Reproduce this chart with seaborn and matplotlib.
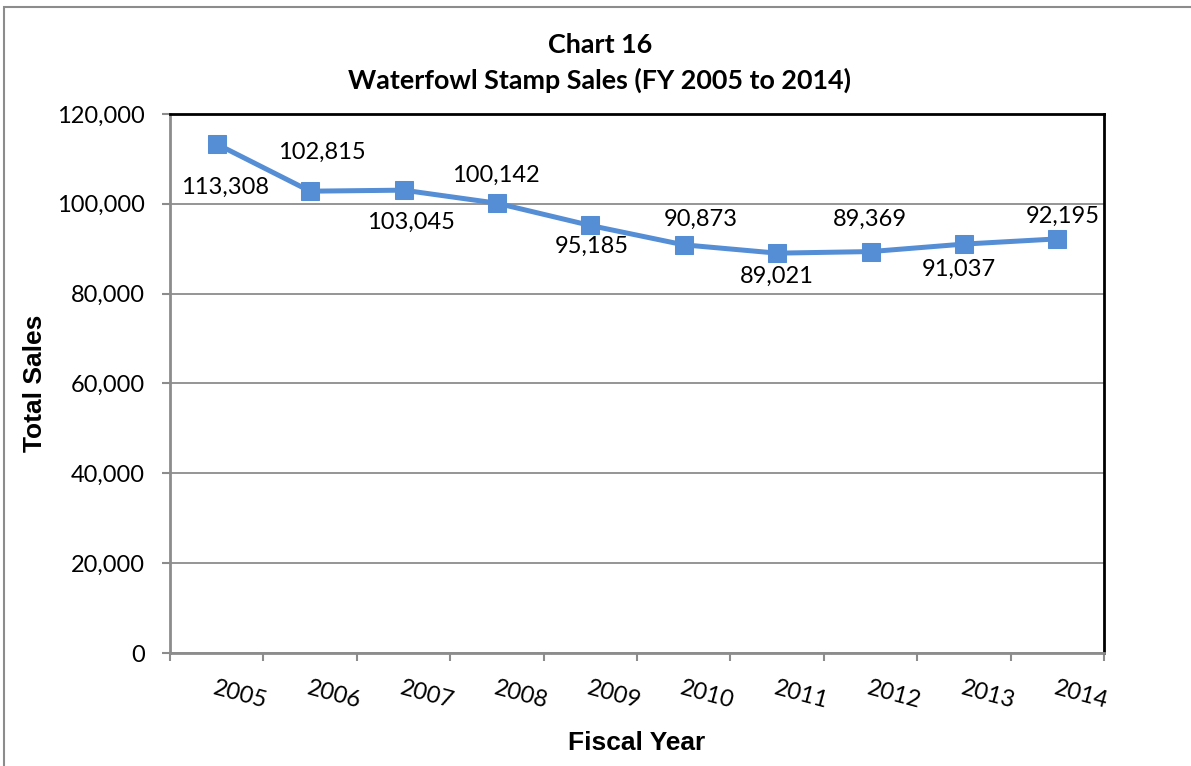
import matplotlib
matplotlib.use("Agg")
import matplotlib.pyplot as plt
import seaborn as sns
import pandas as pd
import numpy as np
from matplotlib.patches import Rectangle
from matplotlib.ticker import FuncFormatter

# ---- data ----
years = ["2005", "2006", "2007", "2008", "2009", "2010", "2011", "2012", "2013", "2014"]
sales = [113308, 102815, 103045, 100142, 95185, 90873, 89021, 89369, 91037, 92195]
value_labels = ["113,308", "102,815", "103,045", "100,142", "95,185",
                "90,873", "89,021", "89,369", "91,037", "92,195"]
y_ticks = [0, 20000, 40000, 60000, 80000, 100000, 120000]

# label offsets in pixels (dx right, dy down) - style/position only
label_dx = [8, 12, 7, -1, 1, 17, 0, -1, -5, 5]
label_dy = [43, -39, 32, -28, 21, -25, 23, -32, 25, -23]

sns.set_style("white")
plt.rcParams['font.family'] = ['Lato', 'DejaVu Sans']
plt.rcParams['text.color'] = 'black'
plt.rcParams['axes.labelcolor'] = 'black'
plt.rcParams['xtick.color'] = 'black'
plt.rcParams['ytick.color'] = 'black'

W, H = 1191, 766
fig = plt.figure(figsize=(W / 100, H / 100), dpi=100)
ax = fig.add_axes([170 / W, 1 - 653 / H, (1104 - 170) / W, (653 - 114) / H])

df = pd.DataFrame({"pos": np.arange(len(years)), "sales": sales})
color = "#558ED5"
sns.lineplot(data=df, x="pos", y="sales", ax=ax, color=color, linewidth=3.6,
             marker="s", markersize=13.5, markeredgecolor=color,
             markerfacecolor=color, zorder=3)

ax.set_xlim(-0.5, len(years) - 0.5)
ax.set_ylim(0, 120000)
ax.set_yticks(y_ticks)
ax.yaxis.set_major_formatter(FuncFormatter(lambda v, p: f"{int(v):,}"))
ax.grid(axis="y", color="#8c8c8c", linewidth=1.3)
ax.grid(axis="x", visible=False)
ax.set_axisbelow(True)

# x ticks at boundaries, labels at centers
ax.set_xticks(np.arange(-0.5, len(years), 1.0))
ax.set_xticklabels([])
ax.set_xticks(np.arange(len(years)), minor=True)
ax.set_xticklabels(years, minor=True, rotation=-15, ha="left", va="top",
                   rotation_mode="anchor", fontsize=17, color="black")
ax.tick_params(axis="x", which="major", length=6, width=1.5, color="#8c8c8c",
               direction="out", bottom=True)
ax.tick_params(axis="x", which="minor", length=0, pad=18, bottom=True,
               labelcolor="black")
ax.tick_params(axis="y", length=6, width=1.5, color="#8c8c8c", direction="out",
               left=True, pad=12, labelsize=17, labelcolor="black")

for s in ["left", "bottom"]:
    ax.spines[s].set_color("#8c8c8c")
    ax.spines[s].set_linewidth(2)
for s in ["top", "right"]:
    ax.spines[s].set_color("black")
    ax.spines[s].set_linewidth(2)
    ax.spines[s].set_visible(True)

ax.set_xlabel("Fiscal Year", fontsize=19, fontweight="bold", color="black",
              family=["Liberation Sans", "DejaVu Sans"], labelpad=13)
ax.set_ylabel("Total Sales", fontsize=19, fontweight="bold", color="black",
              family=["Liberation Sans", "DejaVu Sans"], labelpad=7)

for i, (v, lab) in enumerate(zip(sales, value_labels)):
    ax.annotate(lab, xy=(i, v), xytext=(label_dx[i], -label_dy[i]),
                textcoords="offset pixels", ha="center", va="center",
                fontsize=17, color="black", zorder=4)

fig.text(600 / W, 1 - 45 / H, "Chart 16", ha="center", va="center",
         fontsize=19.4, fontweight="bold", color="black")
fig.text(600 / W, 1 - 80 / H, "Waterfowl Stamp Sales (FY 2005 to 2014)",
         ha="center", va="center", fontsize=19.4, fontweight="bold", color="black")

# outer chart border (only left/top visible)
fig.patches.append(Rectangle((4 / W, -0.1), 1.2, 1 - 6.5 / H + 0.1,
                             transform=fig.transFigure, fill=False,
                             edgecolor="#8c8c8c", linewidth=1.5))

fig.savefig("out.png", dpi=100)
